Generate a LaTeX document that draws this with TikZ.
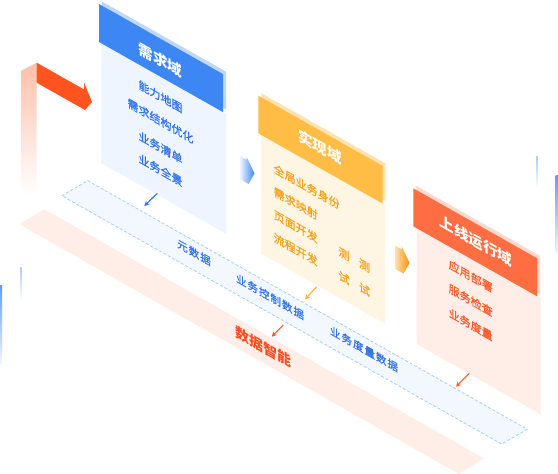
\documentclass[tikz,border=0pt]{standalone}
\usepackage{fontspec}
\setmainfont{Noto Sans CJK SC}
\usetikzlibrary{arrows.meta}
\definecolor{blueHead}{HTML}{3D87F5}
\definecolor{blueShadow}{HTML}{BFD7FC}
\definecolor{blueBody}{HTML}{EEF5FF}
\definecolor{blueText}{HTML}{2F74E8}
\definecolor{orangeHead}{HTML}{FFBD45}
\definecolor{orangeShadow}{HTML}{FFE2AD}
\definecolor{orangeBody}{HTML}{FFF5E3}
\definecolor{orangeText}{HTML}{F5A21C}
\definecolor{redHead}{HTML}{FF6E42}
\definecolor{redShadow}{HTML}{FFD9CC}
\definecolor{redBody}{HTML}{FFEDE7}
\definecolor{redText}{HTML}{FF5A2A}
\definecolor{bandFill}{HTML}{F3F8FF}
\definecolor{bandDash}{HTML}{A6CEFA}
\definecolor{pinkBand}{HTML}{FFEEE8}
\definecolor{smartRed}{HTML}{FF4B1F}
\definecolor{arrowRed}{HTML}{FF5420}
\definecolor{fadeRed}{HTML}{FFBFA8}
\definecolor{decoBlue}{HTML}{5E9CFF}
\definecolor{decoPale}{HTML}{A9C9FF}
\begin{document}
\begin{tikzpicture}[x=1pt,y=-1pt,
  iso/.style={transform shape, yslant=-0.565, inner sep=0pt},
  titletext/.style={iso, text=white, font=\fontsize{14.5}{16}\selectfont\bfseries},
  itemtext/.style={iso, font=\fontsize{11}{13}\selectfont\addfontfeature{FakeBold=0.6}},
  testtext/.style={iso, align=center, font=\fontsize{11}{24}\selectfont\addfontfeature{FakeBold=0.6}, text=orangeText},
  datatext/.style={iso, text=blueText, font=\fontsize{10.5}{12}\selectfont\addfontfeature{FakeBold=0.6}},
  smallarrow/.style={line width=1.1pt, -{Stealth[length=5pt,width=5pt]}},
]
\useasboundingbox (0,0) rectangle (558,474);
\fill[white] (0,0) rectangle (558,474);

% decorative thin lines
\shade[top color=decoBlue, bottom color=blueBody] (0,285) rectangle (2,363);
\shade[top color=decoPale, bottom color=white] (20,267) rectangle (21.5,300);
\shade[top color=decoPale, bottom color=white] (536,156) rectangle (537.5,188);
\shade[top color=decoBlue, bottom color=blueBody] (555.5,175) rectangle (558,252);

% bottom layers
\fill[pinkBand] (19,224) -- (44.3,209.3) -- (484,458.3) -- (459,474) -- cycle;
\draw[fill=bandFill, draw=bandDash, line width=0.8pt, dash pattern=on 3pt off 2pt]
  (61.7,195.7) -- (87.7,180.7) -- (527.3,429.3) -- (501.7,444) -- cycle;

% entry arrow
\shade[top color=fadeRed, bottom color=white] (21,71) -- (36.7,62.7) -- (36.7,195) -- (21,195) -- cycle;
\fill[arrowRed] (36.7,62.7) -- (84,89.4) -- (84,82.3) -- (92,102) -- (85,110) -- (36.7,82.7) -- cycle;

% blue panel
\fill[blueBody] (101,43) -- (226,113.6) -- (226,233.6) -- (101,163) -- cycle;
\fill[blueShadow] (102,1.5) -- (226,71.6) -- (226,109.6) -- (102,39.5) -- cycle;
\fill[blueHead] (99,4) -- (223,74.1) -- (223,112.1) -- (99,42) -- cycle;

% orange panel
\fill[orangeBody] (261,134.8) -- (385.4,205.1) -- (385.4,323.8) -- (261,253.5) -- cycle;
\fill[orangeShadow] (261.3,93.2) -- (385.7,163.5) -- (385.7,201.1) -- (261.3,130.8) -- cycle;
\fill[orangeHead] (258.3,95.7) -- (382.7,166) -- (382.7,203.6) -- (258.3,133.3) -- cycle;

% red panel
\fill[redBody] (416.5,228.1) -- (540.5,298.2) -- (540.5,414.1) -- (416.5,344) -- cycle;
\fill[redShadow] (416.3,185.8) -- (540.3,255.9) -- (540.3,293.9) -- (416.3,223.8) -- cycle;
\fill[redHead] (413.3,188.3) -- (537.3,258.4) -- (537.3,296.4) -- (413.3,226.3) -- cycle;

% chevrons
\shade[left color=blueBody, right color=blueHead]
  (240,156) -- (246.5,159.7) -- (246.5,156.5) -- (254.5,173.5) -- (248.5,184) -- (240,179.5) -- cycle;
\begin{scope}[shift={(155,89.5)}]
\shade[left color=orangeShadow, right color=orange!90!yellow]
  (240,156) -- (246.5,159.7) -- (246.5,156.5) -- (254.5,173.5) -- (248.5,184) -- (240,179.5) -- cycle;
\end{scope}

% titles
\node[titletext] (t1) at (160.5,60) {需求域};
\node[titletext] (t2) at (320,147) {实现域};
\node[titletext] (t3) at (476,241) {上线运行域};

% blue items
\node[itemtext, text=blueText] (b1) at (160.5,96.5) {能力地图};
\node[itemtext, text=blueText] (b2) at (160.5,121) {需求结构优化};
\node[itemtext, text=blueText] (b3) at (160.5,147.5) {业务清单};
\node[itemtext, text=blueText] (b4) at (160.5,170) {业务全景};

% orange items
\node[itemtext, text=orangeText, anchor=west] (o1) at (273.5,167.9) {全局业务身份};
\node[itemtext, text=orangeText, anchor=west] (o2) at (273.5,190.9) {需求映射};
\node[itemtext, text=orangeText, anchor=west] (o3) at (273.5,213.9) {页面开发};
\node[itemtext, text=orangeText, anchor=west] (o4) at (273.5,236.9) {流程开发};
\node[testtext] (ot1) at (344,266) {测\\试};
\node[testtext] (ot2) at (364.5,277.5) {测\\试};

% red items
\node[itemtext, text=redText, anchor=west] (r1) at (448.5,263.6) {应用部署};
\node[itemtext, text=redText, anchor=west] (r2) at (448.5,287.6) {服务检查};
\node[itemtext, text=redText, anchor=west] (r3) at (448.5,311.9) {业务度量};

% data labels
\node[datatext] (d1) at (194,252.5) {元\kern1pt 数\kern1pt 据};
\node[datatext] (d2) at (270,296.7) {业\kern1pt 务\kern1pt 控\kern1pt 制\kern1pt 数\kern1pt 据};
\node[datatext] (d3) at (364,349) {业\kern1pt 务\kern1pt 度\kern1pt 量\kern1pt 数\kern1pt 据};
\node[iso, text=smartRed, font=\fontsize{14}{16}\selectfont\bfseries] (d4) at (263.3,346.7) {数据智能};

% small arrows
\coordinate (ba1) at (157.3,193.3); \coordinate (ba2) at (144.3,206);
\coordinate (oa1) at (316.7,286.7); \coordinate (oa2) at (305,299.3);
\coordinate (ra1) at (283.3,325);   \coordinate (ra2) at (271.7,336.7);
\coordinate (rb1) at (469.3,373.3); \coordinate (rb2) at (456,386.7);
\draw[smallarrow, blueText] (ba1) -- (ba2);
\draw[smallarrow, orangeHead!80!orange] (oa1) -- (oa2);
\draw[smallarrow, redText] (ra1) -- (ra2);
\draw[smallarrow, redText] (rb1) -- (rb2);
\end{tikzpicture}
\end{document}
